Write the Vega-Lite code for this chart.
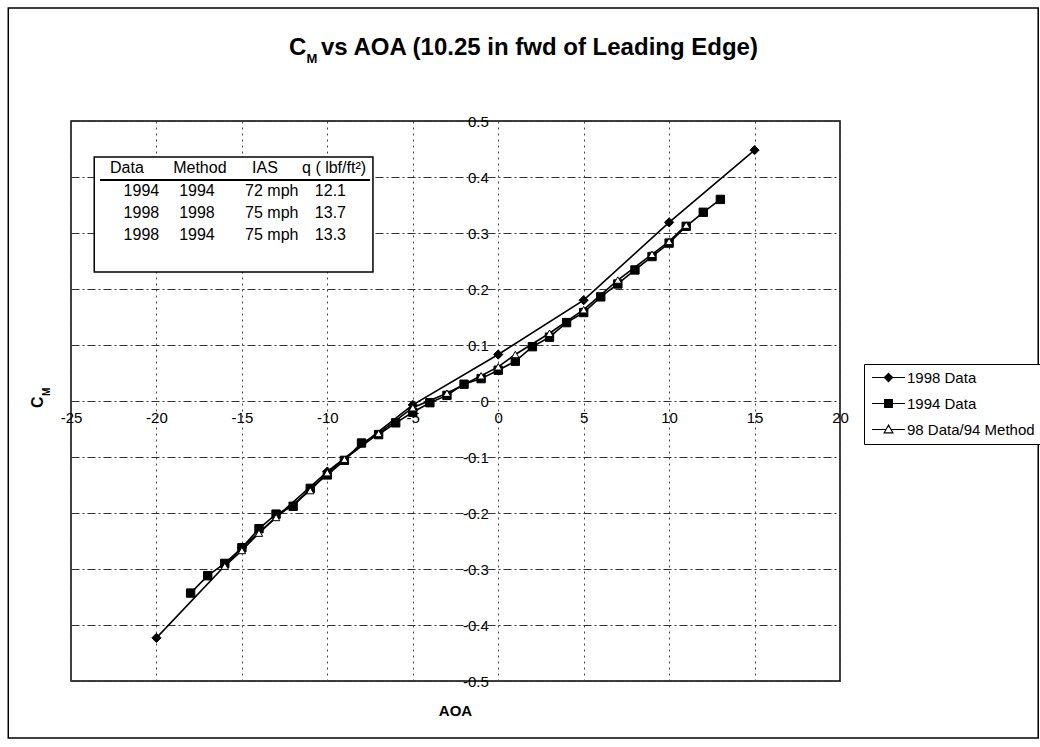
{
  "$schema": "https://vega.github.io/schema/vega-lite/v6.json",
  "width": 769,
  "height": 560,
  "autosize": {"type": "none"},
  "padding": {"left": 71, "top": 121, "right": 200, "bottom": 66},
  "background": "white",
  "config": {
    "font": "Liberation Sans",
    "view": {"stroke": "black", "strokeWidth": 1.5, "fill": "white"},
    "text": {"color": "black"}
  },
  "datasets": {
    "one": [{}],
    "table": [
      {"Data": "1994", "Method": "1994", "IAS": "72 mph", "q": "12.1"},
      {"Data": "1998", "Method": "1998", "IAS": "75 mph", "q": "13.7"},
      {"Data": "1998", "Method": "1994", "IAS": "75 mph", "q": "13.3"}
    ],
    "cm": [
      {"series": "1998 Data", "AOA": -20, "CM": -0.423},
      {"series": "1998 Data", "AOA": -15, "CM": -0.262},
      {"series": "1998 Data", "AOA": -10, "CM": -0.126},
      {"series": "1998 Data", "AOA": -5, "CM": -0.007},
      {"series": "1998 Data", "AOA": 0, "CM": 0.083},
      {"series": "1998 Data", "AOA": 5, "CM": 0.18},
      {"series": "1998 Data", "AOA": 10, "CM": 0.319},
      {"series": "1998 Data", "AOA": 15, "CM": 0.448},
      {"series": "1994 Data", "AOA": -18, "CM": -0.343},
      {"series": "1994 Data", "AOA": -17, "CM": -0.312},
      {"series": "1994 Data", "AOA": -16, "CM": -0.29},
      {"series": "1994 Data", "AOA": -15, "CM": -0.262},
      {"series": "1994 Data", "AOA": -14, "CM": -0.228},
      {"series": "1994 Data", "AOA": -13, "CM": -0.202},
      {"series": "1994 Data", "AOA": -12, "CM": -0.188},
      {"series": "1994 Data", "AOA": -11, "CM": -0.156},
      {"series": "1994 Data", "AOA": -10, "CM": -0.132},
      {"series": "1994 Data", "AOA": -9, "CM": -0.106},
      {"series": "1994 Data", "AOA": -8, "CM": -0.075},
      {"series": "1994 Data", "AOA": -7, "CM": -0.06},
      {"series": "1994 Data", "AOA": -6, "CM": -0.039},
      {"series": "1994 Data", "AOA": -5, "CM": -0.02},
      {"series": "1994 Data", "AOA": -4, "CM": -0.003},
      {"series": "1994 Data", "AOA": -3, "CM": 0.01},
      {"series": "1994 Data", "AOA": -2, "CM": 0.03},
      {"series": "1994 Data", "AOA": -1, "CM": 0.04},
      {"series": "1994 Data", "AOA": 0, "CM": 0.055},
      {"series": "1994 Data", "AOA": 1, "CM": 0.071},
      {"series": "1994 Data", "AOA": 2, "CM": 0.097},
      {"series": "1994 Data", "AOA": 3, "CM": 0.114},
      {"series": "1994 Data", "AOA": 4, "CM": 0.14},
      {"series": "1994 Data", "AOA": 5, "CM": 0.158},
      {"series": "1994 Data", "AOA": 6, "CM": 0.186},
      {"series": "1994 Data", "AOA": 7, "CM": 0.209},
      {"series": "1994 Data", "AOA": 8, "CM": 0.234},
      {"series": "1994 Data", "AOA": 9, "CM": 0.258},
      {"series": "1994 Data", "AOA": 10, "CM": 0.282},
      {"series": "1994 Data", "AOA": 11, "CM": 0.312},
      {"series": "1994 Data", "AOA": 12, "CM": 0.337},
      {"series": "1994 Data", "AOA": 13, "CM": 0.36},
      {"series": "98 Data/94 Method", "AOA": -16, "CM": -0.295},
      {"series": "98 Data/94 Method", "AOA": -15, "CM": -0.267},
      {"series": "98 Data/94 Method", "AOA": -14, "CM": -0.236},
      {"series": "98 Data/94 Method", "AOA": -13, "CM": -0.208},
      {"series": "98 Data/94 Method", "AOA": -11, "CM": -0.16},
      {"series": "98 Data/94 Method", "AOA": -10, "CM": -0.128},
      {"series": "98 Data/94 Method", "AOA": -9, "CM": -0.104},
      {"series": "98 Data/94 Method", "AOA": -7, "CM": -0.058},
      {"series": "98 Data/94 Method", "AOA": -5, "CM": -0.012},
      {"series": "98 Data/94 Method", "AOA": -3, "CM": 0.014},
      {"series": "98 Data/94 Method", "AOA": -1, "CM": 0.045},
      {"series": "98 Data/94 Method", "AOA": 0, "CM": 0.061},
      {"series": "98 Data/94 Method", "AOA": 1, "CM": 0.083},
      {"series": "98 Data/94 Method", "AOA": 3, "CM": 0.121},
      {"series": "98 Data/94 Method", "AOA": 5, "CM": 0.163},
      {"series": "98 Data/94 Method", "AOA": 7, "CM": 0.216},
      {"series": "98 Data/94 Method", "AOA": 9, "CM": 0.262},
      {"series": "98 Data/94 Method", "AOA": 10, "CM": 0.285},
      {"series": "98 Data/94 Method", "AOA": 11, "CM": 0.314}
    ]
  },
  "resolve": {"scale": {"shape": "independent", "fill": "independent"}},
  "layer": [
    {
      "data": {"name": "one"},
      "mark": {"type": "rect", "fillOpacity": 0, "stroke": "black", "strokeWidth": 1.5},
      "encoding": {
        "x": {"datum": -28.67, "scale": {"domain": [-25, 20], "nice": false, "zero": false}},
        "x2": {"datum": 31.6},
        "y": {"datum": 0.7018, "scale": {"domain": [-0.5, 0.5], "nice": false, "zero": false}},
        "y2": {"datum": -0.6018}
      }
    },
    {
      "data": {"name": "one"},
      "mark": {"type": "text", "align": "left", "baseline": "alphabetic", "fontSize": 24, "fontWeight": "bold"},
      "encoding": {
        "x": {"datum": -12.24, "scale": {"domain": [-25, 20], "nice": false, "zero": false}},
        "y": {"datum": 0.6179, "scale": {"domain": [-0.5, 0.5], "nice": false, "zero": false}},
        "text": {"value": "C"}
      }
    },
    {
      "data": {"name": "one"},
      "mark": {"type": "text", "align": "left", "baseline": "alphabetic", "fontSize": 13, "fontWeight": "bold"},
      "encoding": {
        "x": {"datum": -11.22, "scale": {"domain": [-25, 20], "nice": false, "zero": false}},
        "y": {"datum": 0.6036, "scale": {"domain": [-0.5, 0.5], "nice": false, "zero": false}},
        "text": {"value": "M"}
      }
    },
    {
      "data": {"name": "one"},
      "mark": {"type": "text", "align": "left", "baseline": "alphabetic", "fontSize": 24, "fontWeight": "bold"},
      "encoding": {
        "x": {"datum": -10.37, "scale": {"domain": [-25, 20], "nice": false, "zero": false}},
        "y": {"datum": 0.6179, "scale": {"domain": [-0.5, 0.5], "nice": false, "zero": false}},
        "text": {"value": "vs AOA (10.25 in fwd of Leading Edge)"}
      }
    },
    {
      "data": {"name": "one"},
      "mark": {"type": "text", "align": "left", "baseline": "alphabetic", "fontSize": 16, "fontWeight": "bold", "angle": 270},
      "encoding": {
        "x": {"datum": -26.63, "scale": {"domain": [-25, 20], "nice": false, "zero": false}},
        "y": {"datum": -0.0125, "scale": {"domain": [-0.5, 0.5], "nice": false, "zero": false}},
        "text": {"value": "C"}
      }
    },
    {
      "data": {"name": "one"},
      "mark": {"type": "text", "align": "left", "baseline": "alphabetic", "fontSize": 10, "fontWeight": "bold", "angle": 270},
      "encoding": {
        "x": {"datum": -26.22, "scale": {"domain": [-25, 20], "nice": false, "zero": false}},
        "y": {"datum": 0.0089, "scale": {"domain": [-0.5, 0.5], "nice": false, "zero": false}},
        "text": {"value": "M"}
      }
    },
    {
      "data": {"name": "one"},
      "mark": {"type": "rect", "fill": "white", "stroke": "black", "strokeWidth": 1.5},
      "encoding": {
        "x": {"datum": -23.64, "scale": {"domain": [-25, 20], "nice": false, "zero": false}},
        "x2": {"datum": -7.33},
        "y": {"datum": 0.4357, "scale": {"domain": [-0.5, 0.5], "nice": false, "zero": false}},
        "y2": {"datum": 0.2304}
      }
    },
    {
      "data": {"name": "one"},
      "mark": {"type": "rule", "stroke": "black", "strokeWidth": 2},
      "encoding": {
        "x": {"datum": -23.3, "scale": {"domain": [-25, 20], "nice": false, "zero": false}},
        "x2": {"datum": -7.5},
        "y": {"datum": 0.3946, "scale": {"domain": [-0.5, 0.5], "nice": false, "zero": false}}
      }
    },
    {
      "data": {"name": "one"},
      "mark": {"type": "text", "align": "center", "baseline": "middle", "fontSize": 16},
      "encoding": {
        "x": {"datum": -21.73, "scale": {"domain": [-25, 20], "nice": false, "zero": false}},
        "y": {"datum": 0.416, "scale": {"domain": [-0.5, 0.5], "nice": false, "zero": false}},
        "text": {"value": "Data"}
      }
    },
    {
      "data": {"name": "one"},
      "mark": {"type": "text", "align": "center", "baseline": "middle", "fontSize": 16},
      "encoding": {
        "x": {"datum": -17.46, "scale": {"domain": [-25, 20], "nice": false, "zero": false}},
        "y": {"datum": 0.416, "scale": {"domain": [-0.5, 0.5], "nice": false, "zero": false}},
        "text": {"value": "Method"}
      }
    },
    {
      "data": {"name": "one"},
      "mark": {"type": "text", "align": "center", "baseline": "middle", "fontSize": 16},
      "encoding": {
        "x": {"datum": -13.65, "scale": {"domain": [-25, 20], "nice": false, "zero": false}},
        "y": {"datum": 0.416, "scale": {"domain": [-0.5, 0.5], "nice": false, "zero": false}},
        "text": {"value": "IAS"}
      }
    },
    {
      "data": {"name": "one"},
      "mark": {"type": "text", "align": "left", "baseline": "middle", "fontSize": 16},
      "encoding": {
        "x": {"datum": -11.48, "scale": {"domain": [-25, 20], "nice": false, "zero": false}},
        "y": {"datum": 0.416, "scale": {"domain": [-0.5, 0.5], "nice": false, "zero": false}},
        "text": {"value": "q ( lbf/ft²)"}
      }
    },
    {
      "data": {"name": "table"},
      "transform": [{"window": [{"op": "row_number", "as": "row"}]}],
      "mark": {"type": "text", "align": "right", "baseline": "middle", "fontSize": 16},
      "encoding": {
        "x": {"datum": -19.84, "scale": {"domain": [-25, 20], "nice": false, "zero": false}},
        "y": {"datum": 0.375, "scale": {"domain": [-0.5, 0.5], "nice": false, "zero": false}},
        "yOffset": {"field": "row", "type": "quantitative", "scale": {"domain": [1, 3], "range": [0, 44]}},
        "text": {"field": "Data"}
      }
    },
    {
      "data": {"name": "table"},
      "transform": [{"window": [{"op": "row_number", "as": "row"}]}],
      "mark": {"type": "text", "align": "center", "baseline": "middle", "fontSize": 16},
      "encoding": {
        "x": {"datum": -17.63, "scale": {"domain": [-25, 20], "nice": false, "zero": false}},
        "y": {"datum": 0.375, "scale": {"domain": [-0.5, 0.5], "nice": false, "zero": false}},
        "yOffset": {"field": "row", "type": "quantitative", "scale": {"domain": [1, 3], "range": [0, 44]}},
        "text": {"field": "Method"}
      }
    },
    {
      "data": {"name": "table"},
      "transform": [{"window": [{"op": "row_number", "as": "row"}]}],
      "mark": {"type": "text", "align": "center", "baseline": "middle", "fontSize": 16},
      "encoding": {
        "x": {"datum": -13.25, "scale": {"domain": [-25, 20], "nice": false, "zero": false}},
        "y": {"datum": 0.375, "scale": {"domain": [-0.5, 0.5], "nice": false, "zero": false}},
        "yOffset": {"field": "row", "type": "quantitative", "scale": {"domain": [1, 3], "range": [0, 44]}},
        "text": {"field": "IAS"}
      }
    },
    {
      "data": {"name": "table"},
      "transform": [{"window": [{"op": "row_number", "as": "row"}]}],
      "mark": {"type": "text", "align": "left", "baseline": "middle", "fontSize": 16},
      "encoding": {
        "x": {"datum": -10.73, "scale": {"domain": [-25, 20], "nice": false, "zero": false}},
        "y": {"datum": 0.375, "scale": {"domain": [-0.5, 0.5], "nice": false, "zero": false}},
        "yOffset": {"field": "row", "type": "quantitative", "scale": {"domain": [1, 3], "range": [0, 44]}},
        "text": {"field": "q"}
      }
    },
    {
      "data": {"name": "cm"},
      "mark": {"type": "line", "stroke": "black", "strokeWidth": 1.6},
      "encoding": {
        "x": {
          "field": "AOA", "type": "quantitative",
          "scale": {"domain": [-25, 20], "nice": false, "zero": false},
          "axis": {
            "offset": -280,
            "values": [-25, -20, -15, -10, -5, 0, 5, 10, 15, 20],
            "labelExpr": "toString(datum.value)",
            "domain": false, "ticks": false,
            "grid": true, "gridDash": [2, 4], "gridColor": "#444", "gridWidth": 1,
            "labelFontSize": 15, "labelPadding": 9, "labelColor": "black",
            "labelFlush": false, "labelOverlap": false,
            "title": "AOA", "titleFontSize": 15, "titleFontWeight": "bold", "titleColor": "black",
            "titleX": 384, "titleY": 309, "titleAlign": "center", "titleBaseline": "middle"
          }
        },
        "y": {
          "field": "CM", "type": "quantitative",
          "scale": {"domain": [-0.5, 0.5], "nice": false, "zero": false},
          "axis": {
            "offset": -427.3,
            "values": [-0.5, -0.4, -0.3, -0.2, -0.1, 0, 0.1, 0.2, 0.3, 0.4, 0.5],
            "labelExpr": "toString(datum.value)",
            "domain": false, "ticks": false,
            "grid": true, "gridDash": [8, 3, 2, 3], "gridColor": "#333", "gridWidth": 1,
            "labelFontSize": 15, "labelPadding": 10, "labelColor": "black", "labelOverlap": false,
            "title": null
          }
        },
        "detail": {"field": "series"},
        "order": {"field": "AOA", "type": "quantitative"}
      }
    },
    {
      "data": {"name": "cm"},
      "mark": {"type": "point", "filled": true, "stroke": "black", "strokeWidth": 1, "opacity": 1},
      "encoding": {
        "x": {"field": "AOA", "type": "quantitative", "scale": {"domain": [-25, 20], "nice": false, "zero": false}},
        "y": {"field": "CM", "type": "quantitative", "scale": {"domain": [-0.5, 0.5], "nice": false, "zero": false}},
        "shape": {"field": "series", "type": "nominal", "scale": {"domain": ["1998 Data", "1994 Data", "98 Data/94 Method"], "range": ["diamond", "square", "triangle-up"]}, "legend": null},
        "fill": {"field": "series", "type": "nominal", "scale": {"domain": ["1998 Data", "1994 Data", "98 Data/94 Method"], "range": ["black", "black", "white"]}, "legend": null},
        "size": {"field": "series", "type": "nominal", "scale": {"domain": ["1998 Data", "1994 Data", "98 Data/94 Method"], "range": [85, 55, 65]}, "legend": null}
      }
    },
    {
      "data": {"name": "cm"},
      "mark": {"type": "point", "filled": true, "opacity": 0},
      "encoding": {
        "x": {"field": "AOA", "type": "quantitative", "scale": {"domain": [-25, 20], "nice": false, "zero": false}},
        "y": {"field": "CM", "type": "quantitative", "scale": {"domain": [-0.5, 0.5], "nice": false, "zero": false}},
        "shape": {
          "field": "series", "type": "nominal",
          "scale": {"domain": ["1998 Data", "1994 Data", "98 Data/94 Method"], "range": ["M-3,0H3M0,-0.75L0.75,0L0,0.75L-0.75,0Z", "M-3,0H3M-0.7,-0.7H0.7V0.7H-0.7Z", "M-3,0H-0.4M0.4,0H3M0,-0.8L0.8,0.6H-0.8Z"]},
          "legend": {"title": null, "orient": "none", "legendX": 793, "legendY": 243, "symbolSize": 120, "symbolOpacity": 1, "symbolOffset": 11, "labelOffset": 11, "labelFontSize": 15, "labelColor": "black", "rowPadding": 10, "strokeColor": "black", "fillColor": "white", "padding": 6,
            "encode": {"symbols": {"update": {"stroke": {"value": "black"}, "strokeWidth": {"value": 1.2}, "opacity": {"value": 1}}}}}
        },
        "fill": {
          "field": "series", "type": "nominal",
          "scale": {"domain": ["1998 Data", "1994 Data", "98 Data/94 Method"], "range": ["black", "black", "white"]},
          "legend": {"title": null, "orient": "none", "legendX": 793, "legendY": 243, "symbolSize": 120, "symbolOpacity": 1, "symbolOffset": 11, "labelOffset": 11, "labelFontSize": 15, "labelColor": "black", "rowPadding": 10, "strokeColor": "black", "fillColor": "white", "padding": 6,
            "encode": {"symbols": {"update": {"stroke": {"value": "black"}, "strokeWidth": {"value": 1.2}, "opacity": {"value": 1}}}}}
        }
      }
    }
  ]
}
